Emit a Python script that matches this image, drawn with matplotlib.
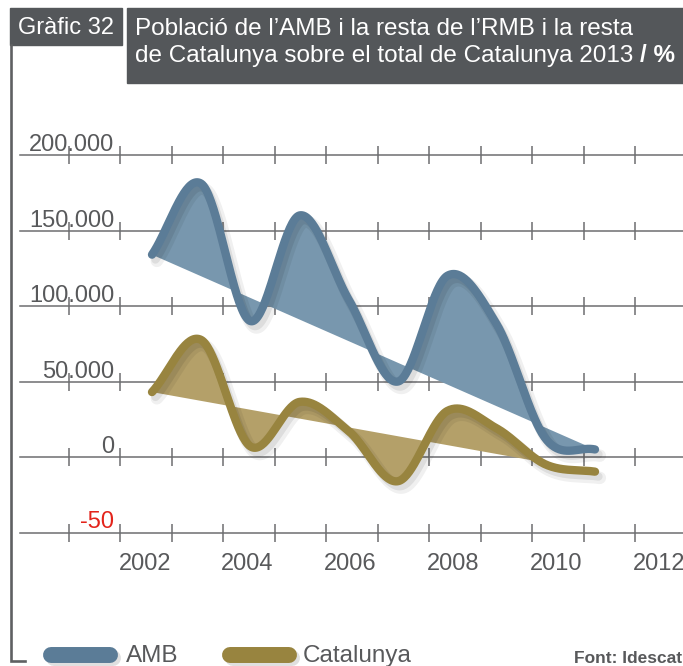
import numpy as np
import matplotlib
matplotlib.use('Agg')
import matplotlib.pyplot as plt
import matplotlib.patheffects as pe
from matplotlib.patches import Rectangle

plt.rcParams['font.family'] = ['Liberation Sans', 'DejaVu Sans']

# dades (milers)
years = [2002, 2003, 2004, 2005, 2006, 2007, 2008, 2009, 2010, 2011]
amb = [134, 181, 90, 160, 104, 50, 120, 88, 12, 5]
catalunya = [43, 77.5, 7, 36.5, 17, -16, 30.5, 19, -5, -9.7]

grid_values = [200000, 150000, 100000, 50000, 0, -50000]
grid_labels = ['200.000', '150.000', '100.000', '50.000', '0', '-50']
xtick_labels = ['2002', '2004', '2006', '2008', '2010', '2012']

title_num = 'Gràfic 32'
title_1 = 'Població de l\u2019AMB i la resta de l\u2019RMB i la resta'
title_2 = 'de Catalunya sobre el total de Catalunya 2013 '
title_unit = '/ %'

AMB_LINE = '#5b7c97'
AMB_FILL = '#7897ae'
CAT_LINE = '#98843f'
CAT_FILL = '#b4a069'
TXT = '#58595b'
GRID = '#6d6e70'
DARK = '#54575a'

W, H = 683, 666
PX_YEAR = (595 - 152) / 9.0
PX_UNIT = 1.51 / 1000.0


def xd(px):
    return 2002 + (px - 152) / PX_YEAR


def yd(py):
    return (457 - py) / PX_UNIT


def smooth(x, y, n=40):
    # corba tipus Catmull-Rom
    x = np.asarray(x, float)
    y = np.asarray(y, float) * 1000
    m = np.gradient(y, x)
    xs, ys = [], []
    for i in range(len(x) - 1):
        t = np.linspace(0, 1, n, endpoint=False)
        h = x[i + 1] - x[i]
        h00 = 2 * t**3 - 3 * t**2 + 1
        h10 = t**3 - 2 * t**2 + t
        h01 = -2 * t**3 + 3 * t**2
        h11 = t**3 - t**2
        ys.append(h00 * y[i] + h10 * h * m[i] + h01 * y[i + 1] + h11 * h * m[i + 1])
        xs.append(x[i] + t * h)
    xs.append([x[-1]])
    ys.append([y[-1]])
    return np.concatenate(xs), np.concatenate(ys)


fig = plt.figure(figsize=(W / 100, H / 100), dpi=100)
ax = fig.add_axes([0, 0, 1, 1])
ax.axis('off')
ax.set_xlim(xd(0), xd(W))
ax.set_ylim(yd(H), yd(0))

# graella
tick_px = [69 + 51.45 * k for k in range(12)]
for v, lab in zip(grid_values, grid_labels):
    ax.plot([xd(20), xd(W)], [v, v], color=GRID, lw=1.1, zorder=1)
    ax.vlines([xd(p) for p in tick_px], v - 9 / PX_UNIT, v + 9 / PX_UNIT,
              color=GRID, lw=1.1, zorder=1)
    ax.text(xd(114), v + 4 / PX_UNIT, lab, ha='right', va='baseline',
            fontsize=17, color='#e3241b' if v < 0 else TXT, zorder=2)

for k, lab in enumerate(xtick_labels):
    ax.text(xd(tick_px[2 * k + 1] - 2), yd(570), lab, ha='left', va='baseline',
            fontsize=17, color=TXT)

shadow = [pe.SimpleLineShadow(offset=(3.5, -4.5), shadow_color='black', alpha=0.06, linewidth=9),
          pe.SimpleLineShadow(offset=(2.5, -3.5), shadow_color='black', alpha=0.08),
          pe.Normal()]

for vals, lc, fc in [(amb, AMB_LINE, AMB_FILL), (catalunya, CAT_LINE, CAT_FILL)]:
    sx, sy = smooth(years, vals)
    ax.fill(sx, sy, color=fc, lw=0, zorder=3)
    ax.plot(sx, sy, color=lc, lw=6, solid_capstyle='round', solid_joinstyle='round',
            path_effects=shadow, zorder=4)

# capçalera
fx = lambda p: p / W
fy = lambda p: 1 - p / H
fig.patches.append(Rectangle((fx(10), fy(45)), fx(122) - fx(10), fy(8) - fy(45),
                             transform=fig.transFigure, color=DARK, zorder=-1))
fig.patches.append(Rectangle((fx(127), fy(83)), fx(W) - fx(127), fy(8) - fy(83),
                             transform=fig.transFigure, color=DARK, zorder=-1))
fig.text(fx(18), fy(34), title_num, fontsize=17, color='white', va='baseline', zorder=6)
fig.text(fx(135), fy(35), title_1, fontsize=17.5, color='white', va='baseline', zorder=6)
t2 = fig.text(fx(135), fy(62), title_2, fontsize=17.5, color='white', va='baseline', zorder=6)
ax.annotate(title_unit, xy=(1, 0), xycoords=t2, va='bottom', ha='left',
            fontsize=17.5, color='white', fontweight='bold', zorder=6)

# marc esquerre
ax.plot([xd(11.3), xd(11.3), xd(25)], [yd(45), yd(661), yd(661)],
        color='#5f6062', lw=1.9, solid_joinstyle='miter', zorder=5)

# llegenda
leg_shadow = [pe.SimpleLineShadow(offset=(2, -2.5), shadow_color='black', alpha=0.12),
              pe.Normal()]
for x0, x1, tx, c, lab in [(51, 110, 126, AMB_LINE, 'AMB'),
                           (230, 289, 303, CAT_LINE, 'Catalunya')]:
    ax.plot([xd(x0), xd(x1)], [yd(655), yd(655)], color=c, lw=11.5,
            solid_capstyle='round', path_effects=leg_shadow, zorder=5)
    ax.text(xd(tx), yd(662), lab, fontsize=17.5, color=TXT, va='baseline')

ax.text(xd(W - 1), yd(663), 'Font: Idescat', fontsize=12.5, fontweight='bold',
        color=TXT, ha='right', va='baseline')

fig.savefig('out.png', dpi=100)
